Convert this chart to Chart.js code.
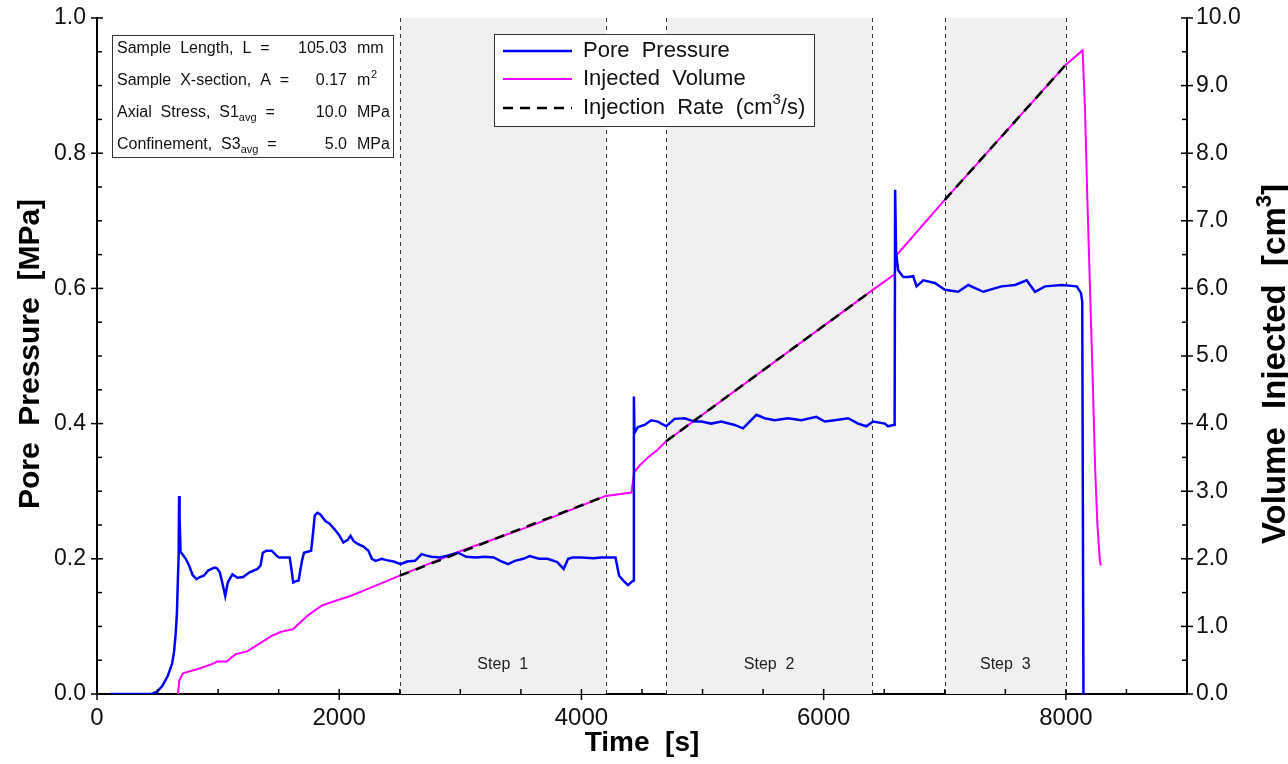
<!DOCTYPE html>
<html lang="en">
<head>
<meta charset="UTF-8">
<title>Pore Pressure / Injected Volume</title>
<script src="https://cdn.jsdelivr.net/npm/chart.js"></script>
<style>
    body {
        margin: 0;
        padding: 0;
        background: #fff;
    }
    canvas {
        display: block;
    }
</style>
</head>
<body>
<canvas id="injChart" width="1288" height="764"></canvas>

<script>
    // pore pressure [MPa] vs time [s]
    var poreTime = [110, 450, 500, 540, 585, 620, 636, 650, 660, 668, 674, 678, 682, 690, 704, 733, 760, 790, 822, 850,
        881, 920, 970, 990, 1014, 1040, 1059, 1080, 1118, 1160, 1206, 1260, 1325, 1350, 1369, 1400, 1443, 1480, 1502, 1560,
        1591, 1605, 1620, 1645, 1665, 1690, 1709, 1768, 1785, 1798, 1820, 1842, 1886, 1920, 1960, 2000, 2034, 2070, 2093, 2120,
        2153, 2200, 2241, 2270, 2300, 2350, 2389, 2450, 2507, 2560, 2626, 2680, 2714, 2760, 2833, 2900, 2980, 3050, 3128, 3200,
        3276, 3330, 3394, 3450, 3520, 3572, 3650, 3720, 3800, 3853, 3890, 3927, 4000, 4100, 4163, 4281, 4311, 4350, 4385, 4429,
        4433, 4438, 4466, 4521, 4576, 4631, 4700, 4769, 4852, 4934, 4989, 5072, 5155, 5265, 5334, 5389, 5444, 5513, 5596, 5706,
        5816, 5940, 6009, 6092, 6202, 6284, 6353, 6408, 6505, 6532, 6574, 6586, 6590, 6598, 6615, 6657, 6698, 6739, 6767, 6822,
        6918, 7001, 7111, 7194, 7318, 7469, 7580, 7676, 7745, 7828, 7965, 8089, 8125, 8135, 8145];
    var porePressure = [0, 0, 0.004, 0.012, 0.027, 0.045, 0.062, 0.09, 0.12, 0.17, 0.204, 0.293, 0.26, 0.21, 0.207, 0.2, 0.19, 0.176, 0.17, 0.173,
        0.175, 0.183, 0.187, 0.186, 0.18, 0.16, 0.145, 0.165, 0.177, 0.172, 0.173, 0.18, 0.185, 0.19, 0.209, 0.212, 0.212, 0.205, 0.202, 0.202,
        0.202, 0.185, 0.165, 0.167, 0.168, 0.195, 0.209, 0.212, 0.24, 0.264, 0.268, 0.266, 0.256, 0.252, 0.244, 0.235, 0.224, 0.228, 0.234, 0.226,
        0.222, 0.218, 0.212, 0.2, 0.197, 0.2, 0.198, 0.196, 0.192, 0.196, 0.197, 0.207, 0.205, 0.203, 0.202, 0.205, 0.209, 0.203, 0.202, 0.203,
        0.202, 0.197, 0.192, 0.197, 0.2, 0.204, 0.2, 0.2, 0.195, 0.185, 0.2, 0.202, 0.202, 0.201, 0.202, 0.202, 0.175, 0.167, 0.161, 0.168,
        0.44, 0.386, 0.395, 0.398, 0.405, 0.403, 0.396, 0.407, 0.408, 0.403, 0.403, 0.4, 0.403, 0.398, 0.393, 0.403, 0.413, 0.408, 0.405, 0.408,
        0.405, 0.41, 0.403, 0.405, 0.408, 0.4, 0.396, 0.403, 0.4, 0.396, 0.398, 0.398, 0.746, 0.652, 0.627, 0.617, 0.617, 0.618, 0.603, 0.612,
        0.608, 0.598, 0.595, 0.605, 0.595, 0.603, 0.605, 0.612, 0.595, 0.603, 0.605, 0.603, 0.593, 0.58, 0];

    // injected volume [cm3] vs time [s]
    var volTime = [668, 680, 704, 715, 852, 960, 992, 1074, 1102, 1147, 1240, 1354, 1443, 1520, 1620, 1739, 1857, 1970, 2093, 2271,
        2500, 2980, 3572, 4200, 4413, 4435, 4480, 4550, 4620, 4700, 6400, 6586, 6601, 7000, 8000, 8138, 8158, 8177, 8199, 8221,
        8241, 8260, 8282, 8290];
    var volInjected = [0, 0.2, 0.29, 0.31, 0.38, 0.45, 0.48, 0.48, 0.53, 0.59, 0.63, 0.76, 0.86, 0.92, 0.96, 1.16, 1.31, 1.38, 1.45, 1.58,
        1.75, 2.1, 2.48, 2.93, 2.98, 3.28, 3.38, 3.5, 3.6, 3.74, 5.97, 6.21, 6.49, 7.31, 9.31, 9.52, 8.65, 7.33, 6.01, 4.69,
        3.37, 2.51, 1.95, 1.9];

    // injection rate fits (dashed), null = gap between steps
    var rateTime = [2500, 4200, 4450, 4700, 6400, 6700, 7000, 8000];
    var rateVolume = [1.75, 2.93, null, 3.74, 5.97, null, 7.31, 9.31];

    // test steps
    var stepStart = [2500, 4700, 7000];
    var stepEnd = [4200, 6400, 8000];
    var stepLabels = ['Step  1', 'Step  2', 'Step  3'];

    // sample info box
    var infoLabels = [['Sample  Length,  L  =', ''], ['Sample  X-section,  A  =', ''], ['Axial  Stress,  S1', 'avg'], ['Confinement,  S3', 'avg']];
    var infoValues = ['105.03', '0.17', '10.0', '5.0'];
    var infoUnits = ['mm', 'm', 'MPa', 'MPa'];

    var xTickValues = [0, 2000, 4000, 6000, 8000];
    var xTickLabels = ['0', '2000', '4000', '6000', '8000'];

    function pairs(xs, ys) {
        return xs.map(function (v, i) { return { x: v, y: ys[i] }; });
    }

    var FONT = '"Liberation Sans", Arial, sans-serif';

    var decorPlugin = {
        id: 'decor',
        beforeDatasetsDraw: function (chart) {
            var ctx = chart.ctx, a = chart.chartArea, xs = chart.scales.x;
            ctx.save();
            // shaded step regions
            ctx.fillStyle = '#f0f0f0';
            for (var i = 0; i < stepStart.length; i++) {
                var x0 = xs.getPixelForValue(stepStart[i]), x1 = xs.getPixelForValue(stepEnd[i]);
                ctx.fillRect(x0, a.top, x1 - x0, a.bottom - a.top);
            }
            // dashed boundaries
            ctx.strokeStyle = '#333';
            ctx.lineWidth = 1;
            ctx.setLineDash([4, 4]);
            stepStart.concat(stepEnd).forEach(function (t) {
                var px = Math.round(xs.getPixelForValue(t)) + 0.5;
                ctx.beginPath();
                ctx.moveTo(px, a.top);
                ctx.lineTo(px, a.bottom);
                ctx.stroke();
            });
            ctx.setLineDash([]);
            // step labels
            ctx.fillStyle = '#222';
            ctx.font = '16px ' + FONT;
            ctx.textAlign = 'center';
            ctx.textBaseline = 'alphabetic';
            for (var j = 0; j < stepStart.length; j++) {
                var cx = xs.getPixelForValue((stepStart[j] + stepEnd[j]) / 2);
                ctx.fillText(stepLabels[j], cx, 669);
            }
            ctx.restore();
        },
        afterDraw: function (chart) {
            var ctx = chart.ctx, a = chart.chartArea;
            var xs = chart.scales.x, yl = chart.scales.y, yr = chart.scales.y1;
            ctx.save();

            // tick marks
            ctx.strokeStyle = '#000';
            ctx.lineWidth = 1.5;
            function seg(x0, y0, x1, y1) {
                ctx.beginPath();
                ctx.moveTo(x0, y0);
                ctx.lineTo(x1, y1);
                ctx.stroke();
            }
            var v, p;
            for (v = 0; v <= 8500; v += 500) {
                p = xs.getPixelForValue(v);
                if (v % 2000 === 0) seg(p, a.bottom - 5, p, a.bottom + 6);
                else seg(p, a.bottom, p, a.bottom - 5);
            }
            for (v = 0; v <= 20; v++) {
                p = yl.getPixelForValue(v * 0.05);
                if (v % 4 === 0) seg(a.left - 6, p, a.left + 6, p);
                else seg(a.left, p, a.left + 5, p);
            }
            for (v = 0; v <= 20; v++) {
                p = yr.getPixelForValue(v * 0.5);
                if (v % 2 === 0) seg(a.right - 6, p, a.right + 6, p);
                else seg(a.right - 5, p, a.right, p);
            }

            // axis titles
            ctx.fillStyle = '#000';
            ctx.textBaseline = 'alphabetic';
            ctx.font = 'bold 28px ' + FONT;
            ctx.textAlign = 'center';
            ctx.fillText('Time  [s]', (a.left + a.right) / 2, 751);

            ctx.save();
            ctx.translate(39, 354);
            ctx.rotate(-Math.PI / 2);
            ctx.font = 'bold 30px ' + FONT;
            ctx.textAlign = 'center';
            ctx.fillText('Pore  Pressure  [MPa]', 0, 0);
            ctx.restore();

            ctx.save();
            ctx.translate(1285, 364);
            ctx.rotate(-Math.PI / 2);
            ctx.font = 'bold 33px ' + FONT;
            var t1 = 'Volume  Injected  [cm', t2 = '3', t3 = ']';
            var w1 = ctx.measureText(t1).width, w3 = ctx.measureText(t3).width;
            ctx.font = 'bold 22px ' + FONT;
            var w2 = ctx.measureText(t2).width;
            var sx = -(w1 + w2 + w3) / 2;
            ctx.textAlign = 'left';
            ctx.font = 'bold 33px ' + FONT;
            ctx.fillText(t1, sx, 0);
            ctx.font = 'bold 22px ' + FONT;
            ctx.fillText(t2, sx + w1, -14);
            ctx.font = 'bold 33px ' + FONT;
            ctx.fillText(t3, sx + w1 + w2, 0);
            ctx.restore();

            // info box
            ctx.fillStyle = '#fff';
            ctx.fillRect(112, 35, 281, 122);
            ctx.strokeStyle = '#333';
            ctx.lineWidth = 1;
            ctx.strokeRect(112.5, 35.5, 281, 122);
            ctx.fillStyle = '#111';
            for (var i = 0; i < infoLabels.length; i++) {
                var by = 53 + i * 32;
                ctx.font = '16px ' + FONT;
                ctx.textAlign = 'left';
                ctx.fillText(infoLabels[i][0], 117, by);
                var lx = 117 + ctx.measureText(infoLabels[i][0]).width;
                if (infoLabels[i][1]) {
                    ctx.font = '11px ' + FONT;
                    ctx.fillText(infoLabels[i][1], lx, by + 4);
                    lx += ctx.measureText(infoLabels[i][1]).width;
                    ctx.font = '16px ' + FONT;
                    ctx.fillText('  =', lx, by);
                }
                ctx.textAlign = 'right';
                ctx.fillText(infoValues[i], 347, by);
                ctx.textAlign = 'left';
                ctx.fillText(infoUnits[i], 357, by);
                if (i === 1) {
                    ctx.font = '11px ' + FONT;
                    ctx.fillText('2', 357 + 14, by - 7);
                }
            }

            // legend
            ctx.fillStyle = '#fff';
            ctx.fillRect(494, 34, 320, 92);
            ctx.strokeStyle = '#333';
            ctx.strokeRect(494.5, 34.5, 320, 92);
            var ds = chart.data.datasets;
            var rowsY = [51, 79, 108];
            ctx.font = '22px ' + FONT;
            ctx.textBaseline = 'middle';
            ctx.textAlign = 'left';
            for (var k = 0; k < ds.length; k++) {
                ctx.strokeStyle = ds[k].borderColor;
                ctx.lineWidth = ds[k].borderWidth;
                ctx.setLineDash(ds[k].borderDash || []);
                seg(503, rowsY[k], 572, rowsY[k]);
                ctx.setLineDash([]);
                ctx.fillStyle = '#111';
                if (k < 2) {
                    ctx.fillText(ds[k].label, 583, rowsY[k]);
                } else {
                    var s1 = 'Injection  Rate  (cm';
                    ctx.fillText(s1, 583, rowsY[k]);
                    var ww = ctx.measureText(s1).width;
                    ctx.font = '15px ' + FONT;
                    ctx.fillText('3', 583 + ww, rowsY[k] - 8);
                    var w3b = ctx.measureText('3').width;
                    ctx.font = '22px ' + FONT;
                    ctx.fillText('/s)', 583 + ww + w3b, rowsY[k]);
                }
            }
            ctx.restore();
        }
    };

    var ctx = document.getElementById('injChart').getContext('2d');
    var injChart = new Chart(ctx, {
        type: 'line',
        data: {
            datasets: [{
                label: 'Pore  Pressure',
                data: pairs(poreTime, porePressure),
                yAxisID: 'y',
                borderColor: '#0000ff',
                borderWidth: 2.5,
                pointRadius: 0,
                order: 1,
                tension: 0
            }, {
                label: 'Injected  Volume',
                data: pairs(volTime, volInjected),
                yAxisID: 'y1',
                borderColor: '#ff00ff',
                borderWidth: 2,
                pointRadius: 0,
                order: 2,
                tension: 0
            }, {
                label: 'Injection Rate (cm3/s)',
                data: pairs(rateTime, rateVolume),
                yAxisID: 'y1',
                borderColor: '#000000',
                borderWidth: 2.5,
                borderDash: [10, 7],
                pointRadius: 0,
                spanGaps: false,
                order: 0,
                tension: 0
            }]
        },
        options: {
            responsive: false,
            animation: false,
            devicePixelRatio: 1,
            layout: { padding: { top: 18, left: 0, right: 0, bottom: 0 } },
            plugins: {
                legend: { display: false },
                tooltip: { enabled: false }
            },
            scales: {
                x: {
                    type: 'linear',
                    min: 0,
                    max: 9000,
                    grid: { display: false, drawTicks: false },
                    border: { display: true, color: '#000', width: 2 },
                    afterBuildTicks: function (s) {
                        s.ticks = xTickValues.map(function (v) { return { value: v }; });
                    },
                    ticks: {
                        autoSkip: false,
                        maxRotation: 0,
                        padding: 10,
                        color: '#111',
                        font: { family: FONT, size: 24 },
                        callback: function (v, idx) { return xTickLabels[idx]; }
                    },
                    afterFit: function (s) { s.height = 70; }
                },
                y: {
                    position: 'left',
                    min: 0,
                    max: 1,
                    grid: { display: false, drawTicks: false },
                    border: { display: true, color: '#000', width: 2 },
                    ticks: {
                        stepSize: 0.2,
                        padding: 11,
                        color: '#111',
                        font: { family: FONT, size: 23, lineHeight: 0.6 },
                        callback: function (v) { return v.toFixed(1); }
                    },
                    afterFit: function (s) { s.width = 97; }
                },
                y1: {
                    position: 'right',
                    min: 0,
                    max: 10,
                    grid: { display: false, drawTicks: false },
                    border: { display: true, color: '#000', width: 2 },
                    ticks: {
                        stepSize: 1,
                        padding: 9,
                        color: '#111',
                        font: { family: FONT, size: 23, lineHeight: 0.6 },
                        callback: function (v) { return v.toFixed(1); }
                    },
                    afterFit: function (s) { s.width = 101; }
                }
            }
        },
        plugins: [decorPlugin]
    });
</script>
</body>
</html>
